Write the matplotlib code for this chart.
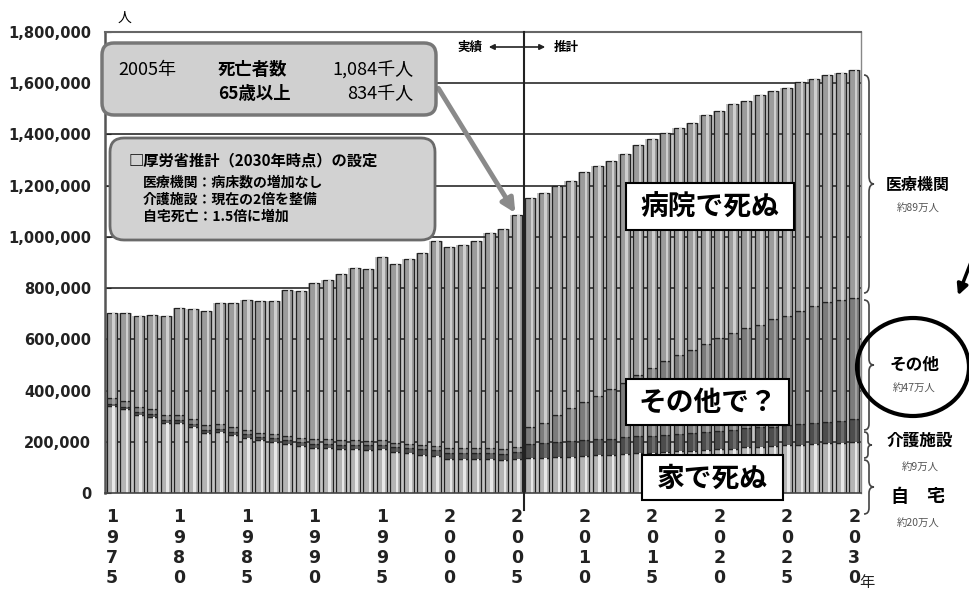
import numpy as np
import matplotlib
matplotlib.use('Agg')
import matplotlib.pyplot as plt
import matplotlib.transforms as mtransforms
from matplotlib.patches import FancyBboxPatch, Ellipse, PathPatch
from matplotlib.path import Path
from matplotlib.ticker import FuncFormatter

plt.rcParams['font.family'] = ['Noto Sans CJK JP', 'DejaVu Sans']

# deaths per year by place, in thousands of people
years = np.arange(1975, 2031)
total = [702, 703, 690, 696, 690, 723, 720, 712, 740, 740,
         752, 751, 751, 793, 789, 820, 830, 857, 879, 876,
         922, 896, 913, 936, 982, 962, 970, 982, 1015, 1029,
         1084,
         1150, 1170, 1200, 1220, 1252, 1275, 1298, 1322, 1357, 1384,
         1404, 1427, 1446, 1477, 1493, 1517, 1532, 1555, 1571, 1583,
         1603, 1618, 1634, 1638, 1650]
home = [339, 327, 305, 296, 273, 273, 257, 234, 238, 226,
        215, 205, 198, 190, 182, 177, 175, 172, 170, 168,
        170, 160, 155, 150, 145, 134, 133, 132, 132, 128,
        132,
        136, 138, 139, 142, 146, 147, 149, 153, 156, 157,
        161, 163, 165, 169, 171, 173, 178, 180, 182, 186,
        188, 192, 194, 196, 200]
care = [10, 10, 10, 11, 11, 12, 12, 12, 13, 13,
        14, 14, 15, 15, 16, 16, 17, 17, 18, 18,
        19, 20, 21, 21, 22, 23, 24, 24, 25, 26,
        28,
        57, 58, 60, 60, 61, 63, 63, 64, 65, 66,
        67, 68, 70, 70, 72, 73, 74, 76, 77, 79,
        81, 83, 85, 87, 90]
other = [22, 21, 20, 20, 19, 19, 18, 18, 18, 18,
         17, 17, 17, 17, 17, 17, 17, 17, 17, 17,
         17, 17, 17, 17, 17, 18, 18, 18, 18, 18,
         19,
         64, 79, 106, 130, 150, 170, 196, 213, 239, 264,
         287, 309, 322, 341, 361, 379, 393, 399, 419, 427,
         441, 455, 466, 469, 470]
label_years = [1975, 1980, 1985, 1990, 1995, 2000, 2005, 2010, 2015, 2020, 2025, 2030]

total = np.array(total) * 1000
home = np.array(home) * 1000
care = np.array(care) * 1000
other = np.array(other) * 1000
hospital = total - home - care - other

W, H = 970, 597
fig = plt.figure(figsize=(W / 100, H / 100), dpi=100)
ax = fig.add_axes([105 / W, 1 - 493 / H, 756 / W, 461 / H])
# pixel coords measured from the top-left corner
pix = mtransforms.Affine2D().scale(1, -1).translate(0, H)

# grey fill behind the columns so the gaps are not white
ax.bar(years, total, width=1.0, color='#c4c4c4', zorder=1)
for v in range(200000, 1800000, 200000):
    ax.axhline(v, color='#3a3a3a', lw=1.3, zorder=1.5)

segs = [(home, '#b4b4b4', '#e8e8e8'),
        (care, '#4d4d4d', '#6c6c6c'),
        (other, '#7c7c7c', '#a2a2a2'),
        (hospital, '#9c9c9c', '#cfcfcf')]
bottom = np.zeros(len(years))
for vals, col, hl in segs:
    ax.bar(years, vals, bottom=bottom, width=0.72, color=col,
           edgecolor='#222222', linewidth=0.9, zorder=2)
    ax.bar(years + 0.12, vals, bottom=bottom, width=0.2, color=hl, zorder=2.1)
    bottom = bottom + vals

ax.set_xlim(1974.5, 2030.5)
ax.set_ylim(0, 1800000)
ax.set_yticks(np.arange(0, 1800001, 200000))
ax.yaxis.set_major_formatter(FuncFormatter(lambda v, p: '{:,.0f}'.format(v)))
ax.tick_params(axis='y', length=4, direction='in', pad=10, labelsize=10.5, colors='#222222')
for t in ax.get_yticklabels():
    t.set_fontweight('bold')
    t.set_family('DejaVu Sans')

ax.set_xticks(label_years)
ax.set_xticklabels(['\n'.join(str(y)) for y in label_years])
ax.tick_params(axis='x', length=0, pad=11, labelsize=12.5, colors='#222222')
for t in ax.get_xticklabels():
    t.set_fontweight('bold')
    t.set_linespacing(1.17)
    t.set_family('DejaVu Sans')
fig.text(867, 583, '年', transform=pix, fontsize=11, ha='center', va='center', color='#222222')

for side, c, lw in [('left', '#555555', 1.8), ('top', '#666666', 1.5),
                    ('right', '#888888', 1.0), ('bottom', '#444444', 1.2)]:
    ax.spines[side].set_color(c)
    ax.spines[side].set_linewidth(lw)

# actual / projection divider after 2005
ax.plot([2005.5, 2005.5], [-66000, 1800000], color='#222222', lw=1.5, zorder=3, clip_on=False)
fig.text(470, 47, '実績', transform=pix, fontsize=9, fontweight='bold', ha='center', va='center')
fig.text(566, 47, '推計', transform=pix, fontsize=9, fontweight='bold', ha='center', va='center')
ax.annotate('', xy=(548, 47), xytext=(486, 47), xycoords=pix, textcoords=pix,
            arrowprops=dict(arrowstyle='<|-|>', color='#222222', lw=1.2, mutation_scale=8))
fig.text(125, 18, '人', transform=pix, fontsize=10, ha='center', va='center')

# summary boxes
box1 = FancyBboxPatch((102, 43), 334, 72, boxstyle='round,pad=0,rounding_size=12',
                      transform=pix, facecolor='#d0d0d0', edgecolor='#777777', lw=2.5, zorder=5)
fig.add_artist(box1)
fig.text(118, 70, '2005年', transform=pix, fontsize=13, va='center', zorder=6)
fig.text(218, 70, '死亡者数', transform=pix, fontsize=12.5, va='center', fontweight='bold', zorder=6)
fig.text(413, 70, '1,084千人', transform=pix, fontsize=13, va='center', ha='right', zorder=6)
fig.text(218, 94, '65歳以上', transform=pix, fontsize=12.5, va='center', fontweight='bold', zorder=6)
fig.text(413, 94, '834千人', transform=pix, fontsize=13, va='center', ha='right', zorder=6)

box2 = FancyBboxPatch((110, 138), 325, 102, boxstyle='round,pad=0,rounding_size=14',
                      transform=pix, facecolor='#d2d2d2', edgecolor='#6a6a6a', lw=2, zorder=5)
fig.add_artist(box2)
fig.text(128, 160, '□厚労省推計（2030年時点）の設定', transform=pix, fontsize=11,
         va='center', fontweight='bold', zorder=6)
for i, line in enumerate(['医療機関：病床数の増加なし', '介護施設：現在の2倍を整備', '自宅死亡：1.5倍に増加']):
    fig.text(143, 183 + 17 * i, line, transform=pix, fontsize=10, va='center',
             fontweight='bold', zorder=6)

ax.annotate('', xy=(2005, total[30]), xycoords='data', xytext=(437, 86), textcoords=pix,
            arrowprops=dict(arrowstyle='-|>', color='#8a8a8a', lw=3.5, mutation_scale=20),
            zorder=6)

# captions over the columns
for txt, x0, y0, x1, y1 in [('病院で死ぬ', 626, 183, 794, 230),
                            ('その他で？', 626, 379, 789, 425),
                            ('家で死ぬ', 642, 455, 783, 500)]:
    fig.add_artist(FancyBboxPatch((x0, y0), x1 - x0, y1 - y0, boxstyle='square,pad=0',
                                  transform=pix, facecolor='white', edgecolor='black',
                                  lw=1.5, zorder=7))
    fig.text((x0 + x1) / 2, (y0 + y1) / 2 + 1, txt, transform=pix, fontsize=20,
             fontweight='bold', ha='center', va='center', zorder=8)


def brace(x0, y0, y1, h=5, r=8):
    ym = (y0 + y1) / 2
    verts = [(x0, y0), (x0 + h, y0), (x0 + h, y0 + r),
             (x0 + h, ym - r), (x0 + h, ym), (x0 + 2 * h, ym),
             (x0 + h, ym), (x0 + h, ym + r),
             (x0 + h, y1 - r), (x0 + h, y1), (x0, y1)]
    codes = [Path.MOVETO, Path.CURVE3, Path.CURVE3,
             Path.LINETO, Path.CURVE3, Path.CURVE3,
             Path.CURVE3, Path.CURVE3,
             Path.LINETO, Path.CURVE3, Path.CURVE3]
    fig.add_artist(PathPatch(Path(verts, codes), transform=pix, fill=False,
                             edgecolor='#444444', lw=1.2))


brace(864, 75, 293)
brace(864, 300, 430, r=6)
brace(864, 432, 458, h=4, r=4)
brace(864, 460, 514, r=6)

# place labels at the right
fig.text(918, 185, '医療機関', transform=pix, fontsize=11.5, fontweight='bold', ha='center', va='center')
fig.text(918, 208, '約89万人', transform=pix, fontsize=7.5, ha='center', va='center', color='#555555')
fig.text(914, 365, 'その他', transform=pix, fontsize=12, fontweight='bold', ha='center', va='center')
fig.text(914, 388, '約47万人', transform=pix, fontsize=7.5, ha='center', va='center', color='#555555')
fig.text(920, 441, '介護施設', transform=pix, fontsize=12, fontweight='bold', ha='center', va='center')
fig.text(920, 467, '約9万人', transform=pix, fontsize=7.5, ha='center', va='center', color='#555555')
fig.text(918, 496, '自　宅', transform=pix, fontsize=13, fontweight='bold', ha='center', va='center')
fig.text(918, 523, '約20万人', transform=pix, fontsize=7.5, ha='center', va='center', color='#555555')

fig.add_artist(Ellipse((913, 367), 112, 98, transform=pix, fill=False, edgecolor='black', lw=3))
ax.annotate('', xy=(957, 298), xytext=(975, 252), xycoords=pix, textcoords=pix,
            arrowprops=dict(arrowstyle='-|>', color='black', lw=2.5, mutation_scale=16))

fig.savefig('out.png', dpi=100)
